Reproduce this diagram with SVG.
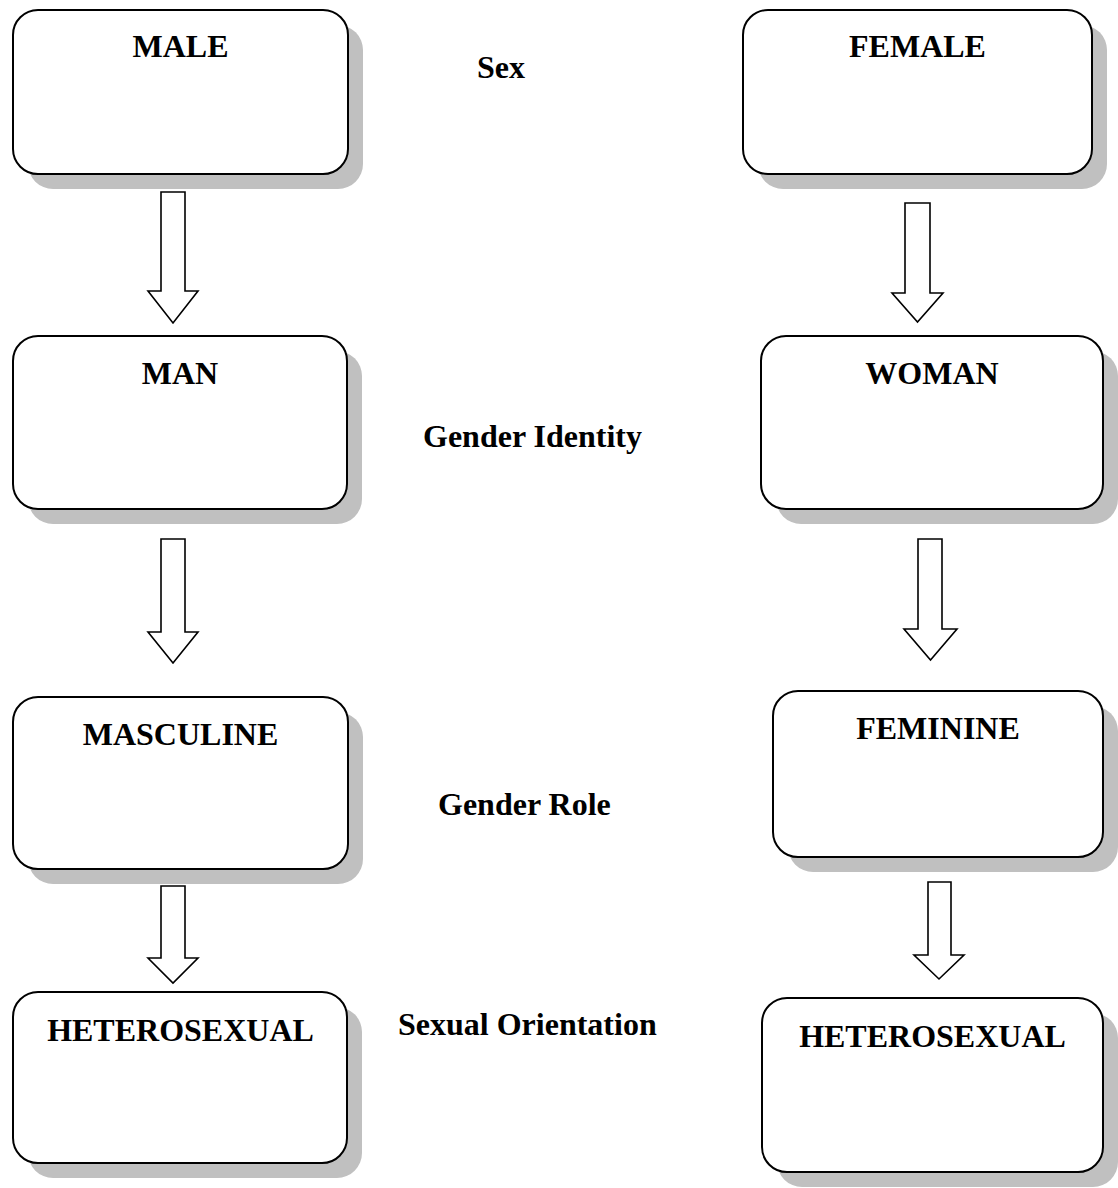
<svg xmlns="http://www.w3.org/2000/svg" width="1118" height="1188" viewBox="0 0 1118 1188">
<style>
.box{fill:#ffffff;stroke:#000000;stroke-width:2}
.shadow{fill:#c0c0c0;stroke:none}
.arrow{fill:#ffffff;stroke:#000000;stroke-width:1.6;stroke-linejoin:miter}
text{font-family:"Liberation Serif","Times New Roman",serif;font-weight:bold;font-size:32px;fill:#000000}
.c{text-anchor:middle}
</style>
<rect width="1118" height="1188" fill="#ffffff"/>
<g id="node-male">
<rect class="shadow" x="28" y="25" width="335" height="164" rx="25"/>
<rect class="box" x="13" y="10" width="335" height="164" rx="25"/>
<text class="c" x="180.5" y="57">MALE</text>
</g>
<g id="node-man">
<rect class="shadow" x="28" y="351" width="334" height="173" rx="25"/>
<rect class="box" x="13" y="336" width="334" height="173" rx="25"/>
<text class="c" x="180" y="384">MAN</text>
</g>
<g id="node-masculine">
<rect class="shadow" x="28" y="712" width="335" height="172" rx="25"/>
<rect class="box" x="13" y="697" width="335" height="172" rx="25"/>
<text class="c" x="180.5" y="745">MASCULINE</text>
</g>
<g id="node-hetero-left">
<rect class="shadow" x="28" y="1007" width="334" height="171" rx="25"/>
<rect class="box" x="13" y="992" width="334" height="171" rx="25"/>
<text class="c" x="180.5" y="1041">HETEROSEXUAL</text>
</g>
<g id="node-female">
<rect class="shadow" x="758" y="25" width="349" height="164" rx="25"/>
<rect class="box" x="743" y="10" width="349" height="164" rx="25"/>
<text class="c" x="917.5" y="57">FEMALE</text>
</g>
<g id="node-woman">
<rect class="shadow" x="776" y="351" width="342" height="173" rx="25"/>
<rect class="box" x="761" y="336" width="342" height="173" rx="25"/>
<text class="c" x="932" y="384">WOMAN</text>
</g>
<g id="node-feminine">
<rect class="shadow" x="788" y="706" width="330" height="166" rx="25"/>
<rect class="box" x="773" y="691" width="330" height="166" rx="25"/>
<text class="c" x="938" y="739">FEMININE</text>
</g>
<g id="node-hetero-right">
<rect class="shadow" x="777" y="1013" width="341" height="174" rx="25"/>
<rect class="box" x="762" y="998" width="341" height="174" rx="25"/>
<text class="c" x="932.5" y="1047">HETEROSEXUAL</text>
</g>
<g id="labels">
<text x="477" y="78">Sex</text>
<text x="423" y="447">Gender Identity</text>
<text x="438" y="815">Gender Role</text>
<text x="398" y="1035">Sexual Orientation</text>
</g>
<g id="connectors">
<polygon class="arrow" points="161,192 185,192 185,291 198,291 173,323 148,291 161,291"/>
<polygon class="arrow" points="161,539 185,539 185,632 198,632 173,663 148,632 161,632"/>
<polygon class="arrow" points="161,886 185,886 185,958 198,958 173,983 148,958 161,958"/>
<polygon class="arrow" points="905,203 930,203 930,293 943,293 917.5,322 892,293 905,293"/>
<polygon class="arrow" points="918,539 942,539 942,629 957,629 930.5,660 904,629 918,629"/>
<polygon class="arrow" points="928,882 951,882 951,955 964,955 939,979 914,955 928,955"/>
</g>
</svg>
